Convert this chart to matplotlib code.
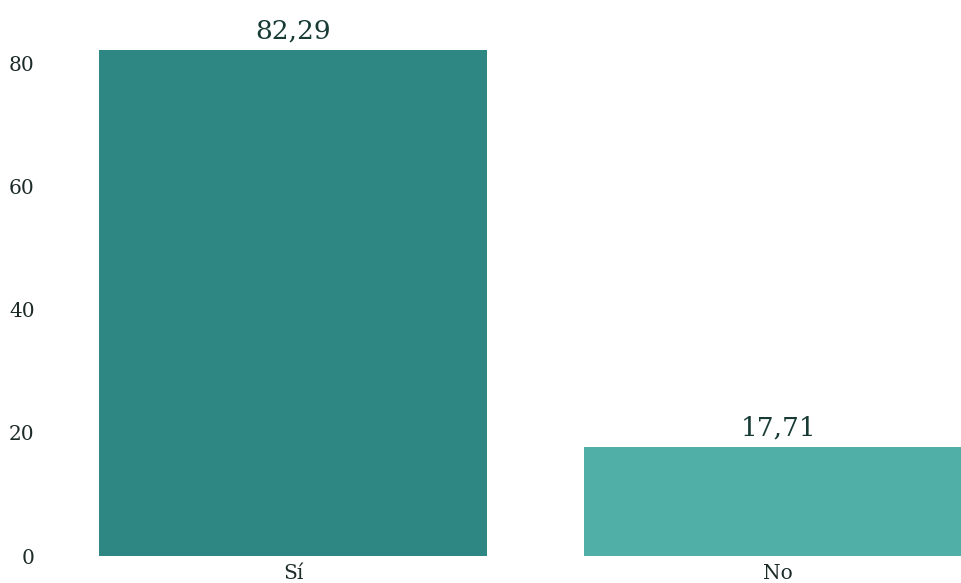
import matplotlib.pyplot as plt

categorias = ["Sí", "No"]
valores = [82.29, 17.71]
colores = ["#2e8782", "#50afa6"]

plt.rcParams['font.family'] = ['DejaVu Serif']

fig = plt.figure(figsize=(9.61, 5.83), dpi=100)
ax = fig.add_axes([75 / 961, 27 / 583, 886 / 961, 556 / 583])

pos = range(len(categorias))
barras = ax.bar(pos, valores, width=0.8, color=colores)

for b, v in zip(barras, valores):
    ax.text(b.get_x() + b.get_width() / 2, v + 1.0, f"{v:.2f}".replace(".", ","),
            ha="center", va="bottom", fontsize=19, color="#173a34")

ax.set_xlim(-0.45, 1.377)
ax.set_ylim(0, 90.4)
ax.set_yticks([0, 20, 40, 60, 80])
ax.set_xticks(list(pos))
ax.set_xticklabels(categorias)
ax.tick_params(axis="y", length=0, pad=29, labelsize=14.5, labelcolor="#1c2b28")
ax.tick_params(axis="x", length=0, pad=6, labelsize=14.5, labelcolor="#1c2b28")
for s in ax.spines.values():
    s.set_visible(False)

fig.savefig("out.png", dpi=100)
